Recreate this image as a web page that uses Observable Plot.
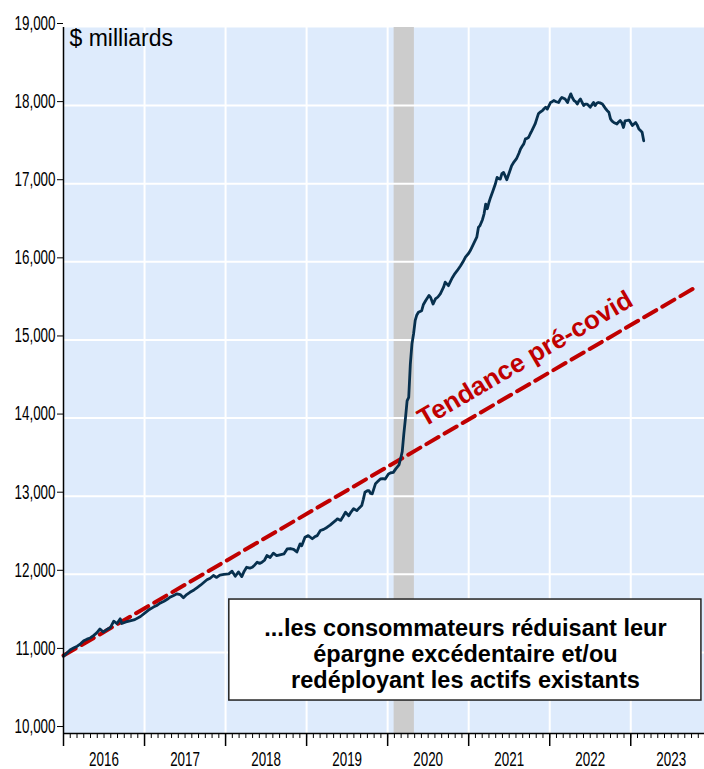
<!DOCTYPE html>
<html><head><meta charset="utf-8">
<script src="https://cdn.jsdelivr.net/npm/d3@7"></script>
<script src="https://cdn.jsdelivr.net/npm/@observablehq/plot@0.6"></script>
<style>
html,body{margin:0;padding:0;background:#fff;}
svg{display:block;}
</style></head><body>
<div id="chart"></div>
<script>
// Weekly dates (decimal years) and deposits ($ milliards)
const weeks = [2016.00,2016.04,2016.08,2016.13,2016.17,2016.21,2016.25,2016.29,2016.33,2016.37,2016.41,2016.45,2016.49,2016.53,2016.58,2016.62,2016.66,2016.70,2016.72,2016.77,2016.82,2016.88,2016.95,
2017.01,2017.06,2017.11,2017.15,2017.19,2017.24,2017.28,2017.32,2017.36,2017.40,2017.44,2017.48,2017.52,2017.56,2017.61,2017.65,2017.69,2017.73,2017.77,2017.81,2017.85,2017.89,2017.93,2017.98,
2018.04,2018.08,2018.12,2018.16,2018.20,2018.23,2018.26,2018.30,2018.33,2018.36,2018.39,2018.42,2018.45,2018.48,2018.51,2018.55,2018.59,2018.63,2018.67,2018.72,2018.76,2018.80,2018.84,2018.88,2018.92,2018.94,2018.98,
2019.02,2019.07,2019.10,2019.13,2019.17,2019.21,2019.25,2019.29,2019.33,2019.36,2019.38,2019.42,2019.45,2019.48,2019.52,2019.55,2019.58,2019.62,2019.65,2019.68,2019.70,2019.72,2019.75,2019.77,2019.79,2019.81,2019.85,2019.88,2019.91,2019.94,2019.97,
2020.01,2020.04,2020.07,2020.10,2020.14,2020.16,2020.18,2020.20,2020.22,2020.24,2020.26,2020.28,2020.30,2020.32,2020.34,2020.36,2020.38,2020.42,2020.44,2020.47,2020.51,2020.53,2020.56,2020.59,2020.62,2020.65,2020.69,2020.71,2020.75,2020.78,2020.80,2020.83,2020.86,2020.90,2020.93,2020.96,
2021.00,2021.02,2021.06,2021.10,2021.12,2021.14,2021.17,2021.19,2021.21,2021.23,2021.25,2021.27,2021.30,2021.33,2021.35,2021.37,2021.39,2021.41,2021.43,2021.45,2021.47,2021.51,2021.53,2021.56,2021.59,2021.62,2021.64,2021.66,2021.68,2021.70,2021.72,2021.74,2021.76,2021.78,2021.82,2021.84,2021.86,2021.88,2021.91,2021.93,2021.95,2021.97,
2022.01,2022.03,2022.05,2022.08,2022.11,2022.13,2022.15,2022.17,2022.19,2022.22,2022.24,2022.26,2022.28,2022.30,2022.32,2022.34,2022.36,2022.38,2022.40,2022.42,2022.44,2022.46,2022.48,2022.50,2022.52,2022.54,2022.56,2022.58,2022.60,2022.62,2022.65,2022.67,2022.69,2022.71,2022.73,2022.75,2022.77,2022.79,2022.81,2022.83,2022.85,2022.87,2022.89,2022.91,2022.93,2022.96,2022.98,
2023.00,2023.02,2023.04,2023.06,2023.08,2023.10,2023.12,2023.14,2023.16];
const deposits = [10950,10990,11030,11060,11080,11110,11150,11170,11185,11215,11250,11300,11260,11290,11320,11400,11370,11430,11370,11390,11405,11420,11460,
11510,11550,11580,11600,11630,11655,11680,11710,11730,11750,11740,11700,11740,11770,11800,11830,11860,11895,11930,11950,11985,11960,11990,12000,
12005,12040,11975,12030,11970,12040,12090,12080,12090,12120,12155,12140,12155,12180,12240,12215,12270,12240,12250,12260,12325,12330,12320,12285,12390,12365,12475,
12495,12455,12480,12495,12560,12575,12600,12630,12665,12690,12710,12690,12740,12795,12750,12800,12840,12815,12850,12880,12960,13050,13070,13070,13035,13030,13160,13190,13220,13225,13220,
13285,13300,13305,13350,13400,13480,13570,13800,14000,14220,14265,14690,14950,15080,15250,15320,15355,15375,15450,15505,15570,15545,15460,15525,15550,15590,15675,15740,15695,15760,15800,15850,15890,15950,16000,16060,
16110,16145,16230,16315,16440,16465,16540,16615,16740,16680,16760,16825,16910,17000,17080,17065,17060,17130,17145,17100,17050,17170,17230,17280,17320,17390,17445,17480,17510,17575,17580,17595,17640,17680,17765,17830,17895,17915,17935,17960,17980,17955,
18040,18050,18065,18050,18040,18080,18105,18095,18085,18040,18100,18150,18100,18065,18050,18020,18060,18085,18040,18000,18020,18020,18000,17980,18010,18040,18000,18030,18040,18035,18020,17990,17960,17935,17915,17830,17800,17785,17775,17765,17790,17810,17780,17720,17805,17810,17815,
17780,17745,17765,17785,17750,17700,17680,17660,17550];

// Pre-covid trend (endpoints)
const trendDates = [2016.00, 2023.77];
const trendValues = [10960, 15656];

// Recession (Feb–Apr 2020)
const recessionStart = [2020.08];
const recessionEnd = [2020.33];

// Axis ticks and labels
const yTicks = [10000,11000,12000,13000,14000,15000,16000,17000,18000,19000];
const yearBounds = [2016,2017,2018,2019,2020,2021,2022,2023];
const yearLabels = ["2016","2017","2018","2019","2020","2021","2022","2023"];

// Texts
const unitLabel = "$ milliards";
const trendLabel = "Tendance pré-covid";
const noteLines = ["...les consommateurs réduisant leur", "épargne excédentaire et/ou", "redéployant les actifs existants"];

// ---- build ----
const series = weeks.map((w, i) => ({t: w, v: deposits[i]}));
const trend = trendDates.map((d, i) => ({t: d, v: trendValues[i]}));
const recession = recessionStart.map((s, i) => ({x1: s, x2: recessionEnd[i]}));
const monthTicks = d3.range(0, 95).map(k => 2016 + k / 12);
const labelTicks = yearBounds.map(y => y + 0.5);
const labelOf = new Map(labelTicks.map((p, i) => [p, yearLabels[i]]));

const X_DOMAIN = [2016, 2023.91];
const Y_DOMAIN = [9962, 19000];
const BG = "#DEEBFC", NAVY = "#07304E", RED = "#C00000";

const chart = Plot.plot({
  width: 704, height: 769,
  marginLeft: 63, marginRight: 0, marginTop: 27, marginBottom: 36,
  style: {fontFamily: "'Liberation Sans', Arial, sans-serif", background: "white", overflow: "visible"},
  x: {type: "linear", domain: X_DOMAIN, axis: null},
  y: {domain: Y_DOMAIN, axis: null},
  marks: [
    Plot.frame({fill: BG, stroke: "none"}),
    Plot.rect(recession, {x1: "x1", x2: "x2", fill: "#CCCCCC"}),
    Plot.gridY(yTicks.slice(1, -1), {stroke: "white", strokeOpacity: 1, strokeWidth: 2}),
    Plot.gridX(yearBounds.slice(1), {stroke: "white", strokeOpacity: 1, strokeWidth: 2}),
    Plot.line(trend, {x: "t", y: "v", stroke: RED, strokeWidth: 4, strokeDasharray: "14,7"}),
    Plot.line(series, {x: "t", y: "v", stroke: NAVY, strokeWidth: 2.8, strokeLinejoin: "round"}),
    Plot.text([trendLabel], {x: 2020.45, y: 13880, text: d => d, rotate: -30.2, textAnchor: "start", lineAnchor: "bottom",
      fontSize: 26, fontWeight: "bold", fill: RED}),
    Plot.rect([noteLines], {x1: 2018.046, x2: 2023.872, y1: 10384, y2: 11677, fill: "white", stroke: "#222", strokeWidth: 1.5}),
    Plot.text([noteLines.join("\n")], {x: 2020.96, y: 10982, text: d => d, lineAnchor: "middle", lineHeight: 1.11,
      fontSize: 23.5, fontWeight: "bold", fill: "#000"}),
    Plot.text([unitLabel], {frameAnchor: "top-left", text: d => d, dx: 6, dy: 2, lineAnchor: "top", textAnchor: "start", fontSize: 23, fill: "#000"}),
    Plot.ruleX([X_DOMAIN[0]], {stroke: "#000", strokeWidth: 1.5}),
    Plot.ruleY([Y_DOMAIN[0]], {stroke: "#000", strokeWidth: 1.5}),
    Plot.axisY(yTicks, {label: null, tickSize: 6, tickPadding: 2, tickFormat: d3.format(","), fontSize: 20, stroke: "#000", dy: -4, color: "#000"}),
    Plot.axisX(monthTicks, {label: null, tickSize: 5, tickFormat: () => "", stroke: "#000", strokeWidth: 1}),
    Plot.axisX(yearBounds, {label: null, tickSize: 13, tickFormat: () => "", stroke: "#000", strokeWidth: 1.5}),
    Plot.axisX(labelTicks, {label: null, tickSize: 0, tickPadding: 18, tickFormat: d => labelOf.get(d), fontSize: 20, color: "#000"})
  ]
});
document.getElementById("chart").append(chart);

// condense tick labels (narrow font in the original)
chart.querySelectorAll('g[aria-label$="tick label"] text').forEach(t => {
  const w = t.getComputedTextLength();
  if (w > 0) {
    t.setAttribute("textLength", (w * 0.67).toFixed(2));
    t.setAttribute("lengthAdjust", "spacingAndGlyphs");
  }
});
</script>
</body></html>
